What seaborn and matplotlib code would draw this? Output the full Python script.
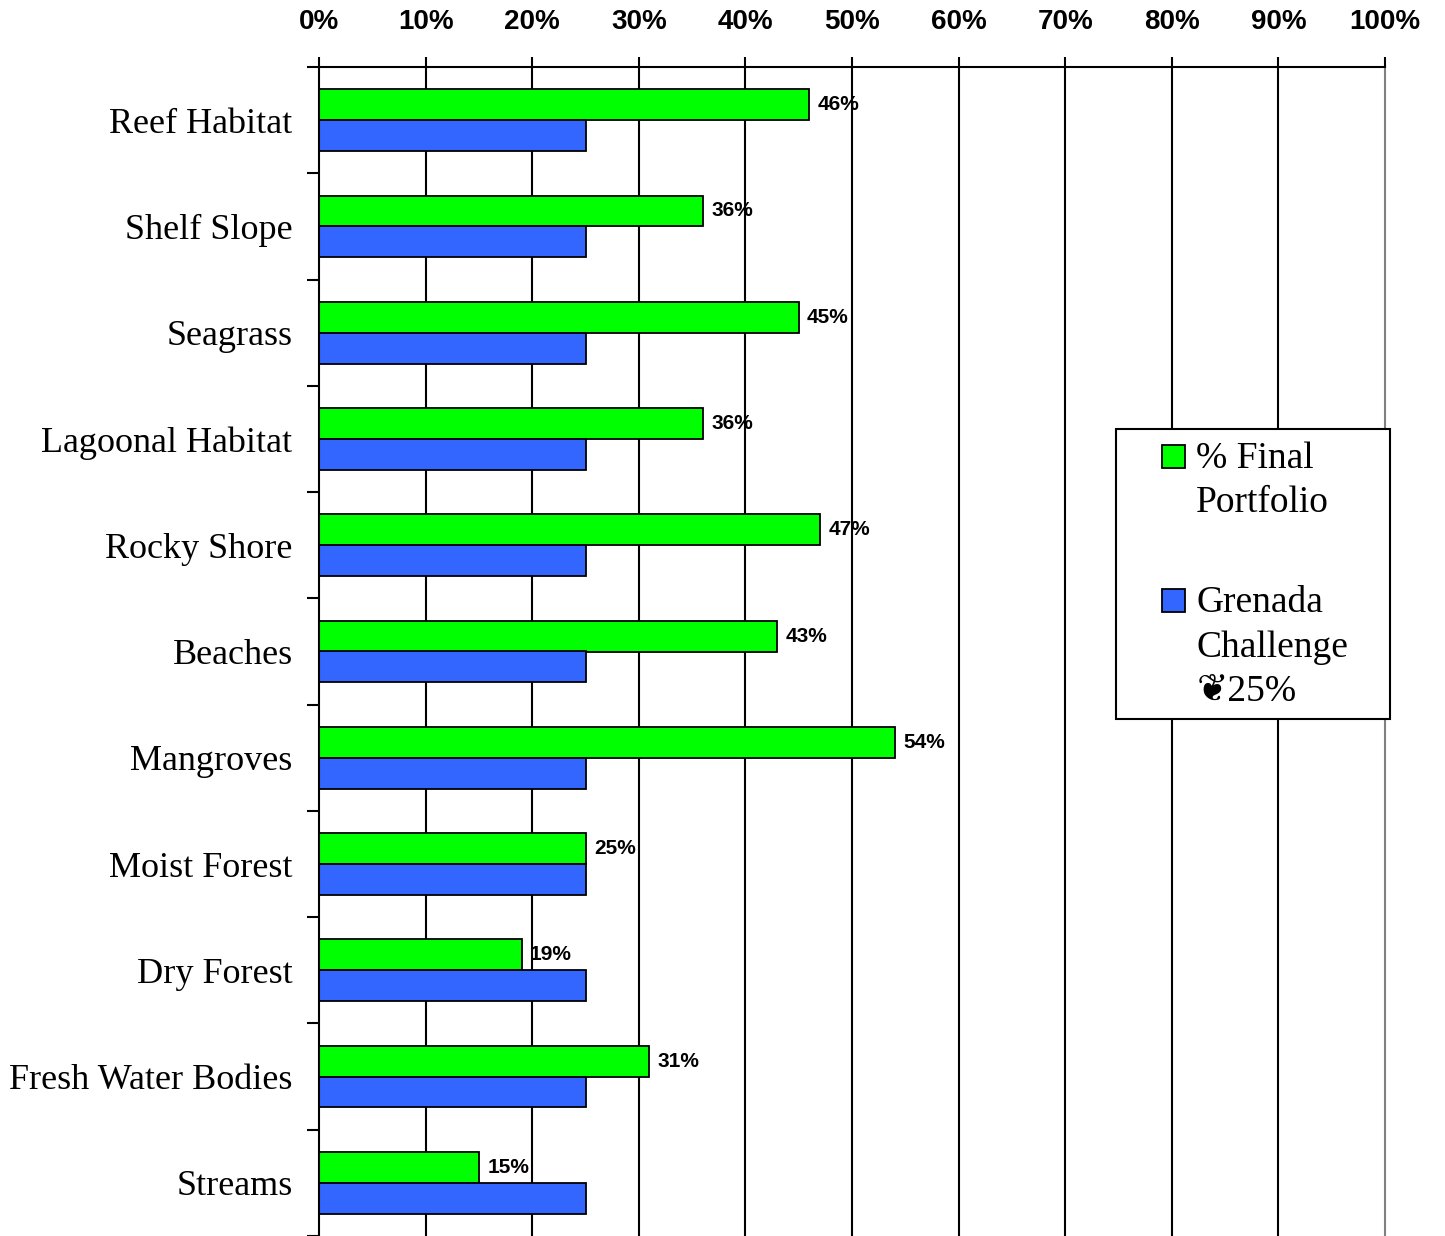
import pandas as pd
import seaborn as sns
import matplotlib.pyplot as plt
from matplotlib.ticker import FixedLocator
from matplotlib.font_manager import FontProperties
from matplotlib.patches import Rectangle
from matplotlib.legend_handler import HandlerPatch

habitats = ["Reef Habitat", "Shelf Slope", "Seagrass", "Lagoonal Habitat",
            "Rocky Shore", "Beaches", "Mangroves", "Moist Forest",
            "Dry Forest", "Fresh Water Bodies", "Streams"]
final_portfolio = [46, 36, 45, 36, 47, 43, 54, 25, 19, 31, 15]
grenada_challenge = [25, 25, 25, 25, 25, 25, 25, 25, 25, 25, 25]
series_names = ["% Final\nPortfolio", "Grenada\nChallenge\n\u276625%"]
x_ticks = list(range(0, 101, 10))

df = pd.DataFrame({
    "Habitat": habitats * 2,
    "Percent": final_portfolio + grenada_challenge,
    "Series": [series_names[0]] * len(habitats) + [series_names[1]] * len(habitats),
})

sns.set_style("white")
plt.rcParams['font.family'] = ['Liberation Serif', 'DejaVu Sans']
plt.rcParams.update({"text.color": "black", "xtick.color": "black",
                     "ytick.color": "black", "axes.labelcolor": "black"})

fig = plt.figure(figsize=(14.45, 12.36), dpi=100)
ax = fig.add_axes([319 / 1445, 0, 1066 / 1445, 1 - 67 / 1236])

ax.set_axisbelow(True)
for v in x_ticks[1:-1]:
    ax.axvline(v, color="black", lw=1.5, zorder=0)

sns.barplot(data=df, y="Habitat", x="Percent", hue="Series", orient="h",
            palette=["#00FF00", "#3366FF"], width=0.58, edgecolor="black",
            linewidth=1.3, saturation=1, ax=ax)

ax.set_xlim(0, 100)
ax.set_ylim(10.5, -0.5)
ax.set_xlabel("")
ax.set_ylabel("")

# x axis on top
ax.xaxis.tick_top()
ax.set_xticks(x_ticks)
ax.set_xticklabels([f"{t}%" for t in x_ticks], fontfamily="Liberation Sans",
                   fontweight="bold", fontsize=20, color="black")
ax.tick_params(axis="x", which="major", direction="out", length=7, width=1.5,
               pad=16, top=True, bottom=False, colors="black")

# y axis: labels at centers, ticks at group boundaries
ax.set_yticks(range(len(habitats)))
ax.set_yticklabels(habitats, fontfamily="Liberation Serif", fontsize=26, color="black")
ax.yaxis.set_minor_locator(FixedLocator([i - 0.5 for i in range(len(habitats) + 1)]))
ax.tick_params(axis="y", which="major", length=0, pad=19)
ax.tick_params(axis="y", which="minor", direction="out", length=9, width=1.5,
               left=True, color="black")

for side in ["top", "left"]:
    ax.spines[side].set_color("black")
    ax.spines[side].set_linewidth(1.5)
ax.spines["right"].set_color("#808080")
ax.spines["right"].set_linewidth(1.5)
ax.spines["bottom"].set_visible(False)

ax.bar_label(ax.containers[0], fmt="%d%%", padding=6, color="black",
             fontfamily="Liberation Sans", fontweight="bold", fontsize=15)

# legend: frame box plus handles aligned with first text line
legend_size = 27
line_factor = 1.38
pitch = line_factor * 0.878 * legend_size
x0, x1 = (1116 - 319) / 1066, (1390 - 319) / 1066
y0, y1 = (1236 - 719) / 1169, (1236 - 429) / 1169
ax.add_patch(Rectangle((x0, y0), x1 - x0, y1 - y0, transform=ax.transAxes,
                       facecolor="white", edgecolor="black", lw=1.5,
                       clip_on=False, zorder=4))

handles, labels = ax.get_legend_handles_labels()
nlines = {id(h): lab.count("\n") + 1 for h, lab in zip(handles, labels)}
sq = 16.5


def top_square(legend, orig_handle, xdescent, ydescent, width, height, fontsize):
    shift = (nlines[id(orig_handle)] - 1) / 2 * pitch + 1
    return Rectangle((-xdescent, -ydescent + (height - sq) / 2 + shift), sq, sq)


leg = ax.legend(handles, labels, loc="upper left",
                bbox_to_anchor=((1162 - 319) / 1066, (1236 - 441) / 1169),
                borderaxespad=0, borderpad=0, frameon=False,
                handlelength=sq / legend_size, handleheight=sq / legend_size,
                handletextpad=0.3, labelspacing=1.75,
                handler_map={h: HandlerPatch(patch_func=top_square) for h in handles},
                prop=FontProperties(family=['Liberation Serif', 'DejaVu Sans'],
                                    size=legend_size))
for t in leg.get_texts():
    t.set_linespacing(line_factor)
leg.set_zorder(5)

fig.savefig("out.png", dpi=100, facecolor="white")
